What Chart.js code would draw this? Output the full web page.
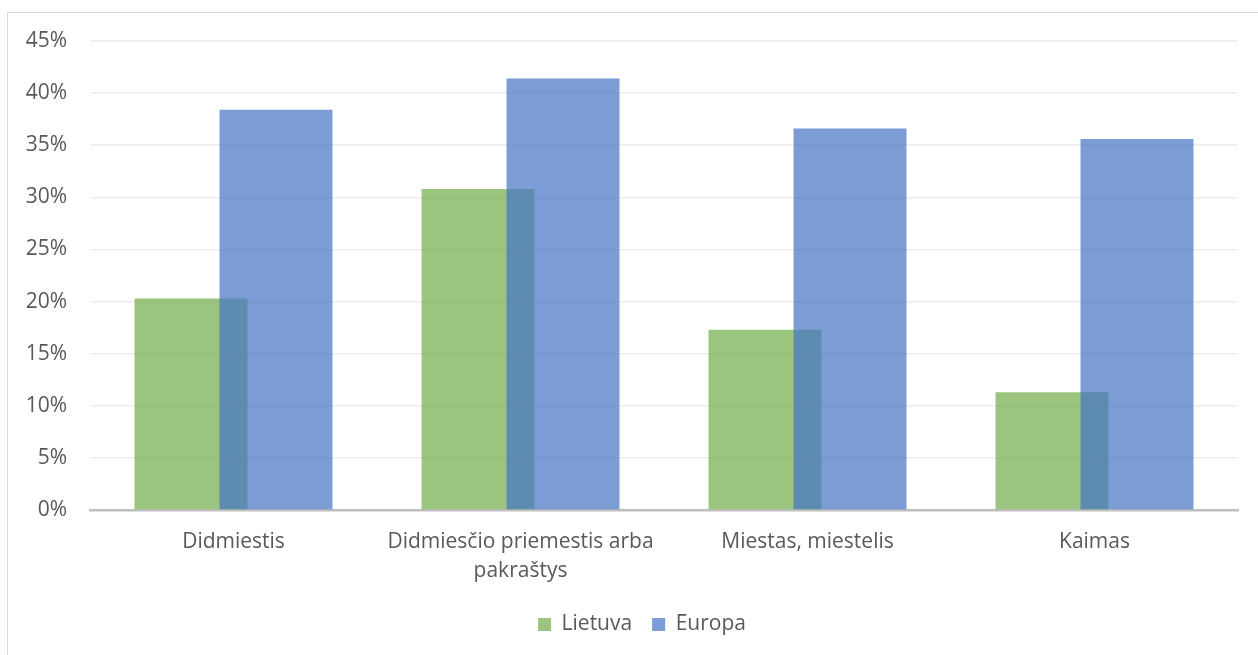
<!DOCTYPE html>
<html>
<head>
<meta charset="utf-8">
<script src="https://cdn.jsdelivr.net/npm/chart.js@4"></script>
<style>
  html, body { margin: 0; padding: 0; background: #fff; overflow: hidden; }
  #wrap { position: relative; width: 1258px; height: 655px; }
  #frame { position: absolute; left: 7px; top: 12px; width: 1400px; height: 800px; border: 1px solid #d9d9d9; pointer-events: none; }
</style>
</head>
<body>
<div id="wrap">
  <canvas id="myChart" width="1258" height="655"></canvas>
  <div id="frame"></div>
</div>
<script>
const categories = ["Didmiestis", ["Didmiesčio priemestis arba", "pakraštys"], "Miestas, miestelis", "Kaimas"];
const lietuva = [20.3, 30.8, 17.3, 11.3];
const europa = [38.4, 41.4, 36.6, 35.6];
const yTicks = [0, 5, 10, 15, 20, 25, 30, 35, 40, 45];

const font = "'Open Sans', 'DejaVu Sans', sans-serif";

// draw Lietuva first so the Europa bars sit on top where they overlap
const blueOnTop = {
    id: "blueOnTop",
    beforeDatasetsDraw(chart) {
        chart.getDatasetMeta(0).controller.draw();
    },
    beforeDatasetDraw(chart, args) {
        if (args.index === 0) return false;
    }
};

// the legend sits a little right of the canvas centre
const legendShift = {
    id: "legendShift",
    afterLayout(chart) {
        chart.legend.left += 23;
        chart.legend.right += 23;
    }
};

window.onload = function () {
    let e = document.getElementById("myChart");
    new Chart(e, {
        type: "bar",
        data: {
            labels: categories,
            datasets: [{
                label: "Lietuva",
                data: lietuva,
                backgroundColor: "rgba(112,173,71,0.7)",
                borderWidth: 0
            }, {
                label: "Europa",
                data: europa,
                backgroundColor: "rgba(68,114,196,0.7)",
                borderWidth: 0
            }]
        },
        options: {
            responsive: false,
            animation: false,
            categoryPercentage: 0.5923,
            barPercentage: 1.329,
            layout: { padding: { top: 41, right: 20, bottom: 10, left: 0 } },
            plugins: {
                tooltip: { enabled: false },
                legend: {
                    position: "bottom",
                    labels: {
                        boxWidth: 13,
                        boxHeight: 13,
                        padding: 20,
                        color: "#595959",
                        font: { family: font, size: 21 }
                    }
                }
            },
            scales: {
                x: {
                    afterFit: s => { s.height = 84; },
                    grid: { display: false },
                    border: { color: "#bfbfbf", width: 2.5 },
                    ticks: {
                        color: "#595959",
                        padding: 10,
                        maxRotation: 0,
                        autoSkip: false,
                        font: { family: font, size: 21, lineHeight: 1.38 }
                    }
                },
                y: {
                    min: 0,
                    max: 45,
                    afterFit: s => { s.width = 90; },
                    afterBuildTicks: s => { s.ticks = yTicks.map(v => ({ value: v })); },
                    border: { display: false },
                    grid: { color: "#ededed", lineWidth: 1.5, drawTicks: false },
                    ticks: {
                        color: "#595959",
                        padding: 23,
                        font: { family: font, size: 21 },
                        callback: v => v + "%"
                    }
                }
            }
        },
        plugins: [blueOnTop, legendShift]
    });
};
</script>
</body>
</html>
